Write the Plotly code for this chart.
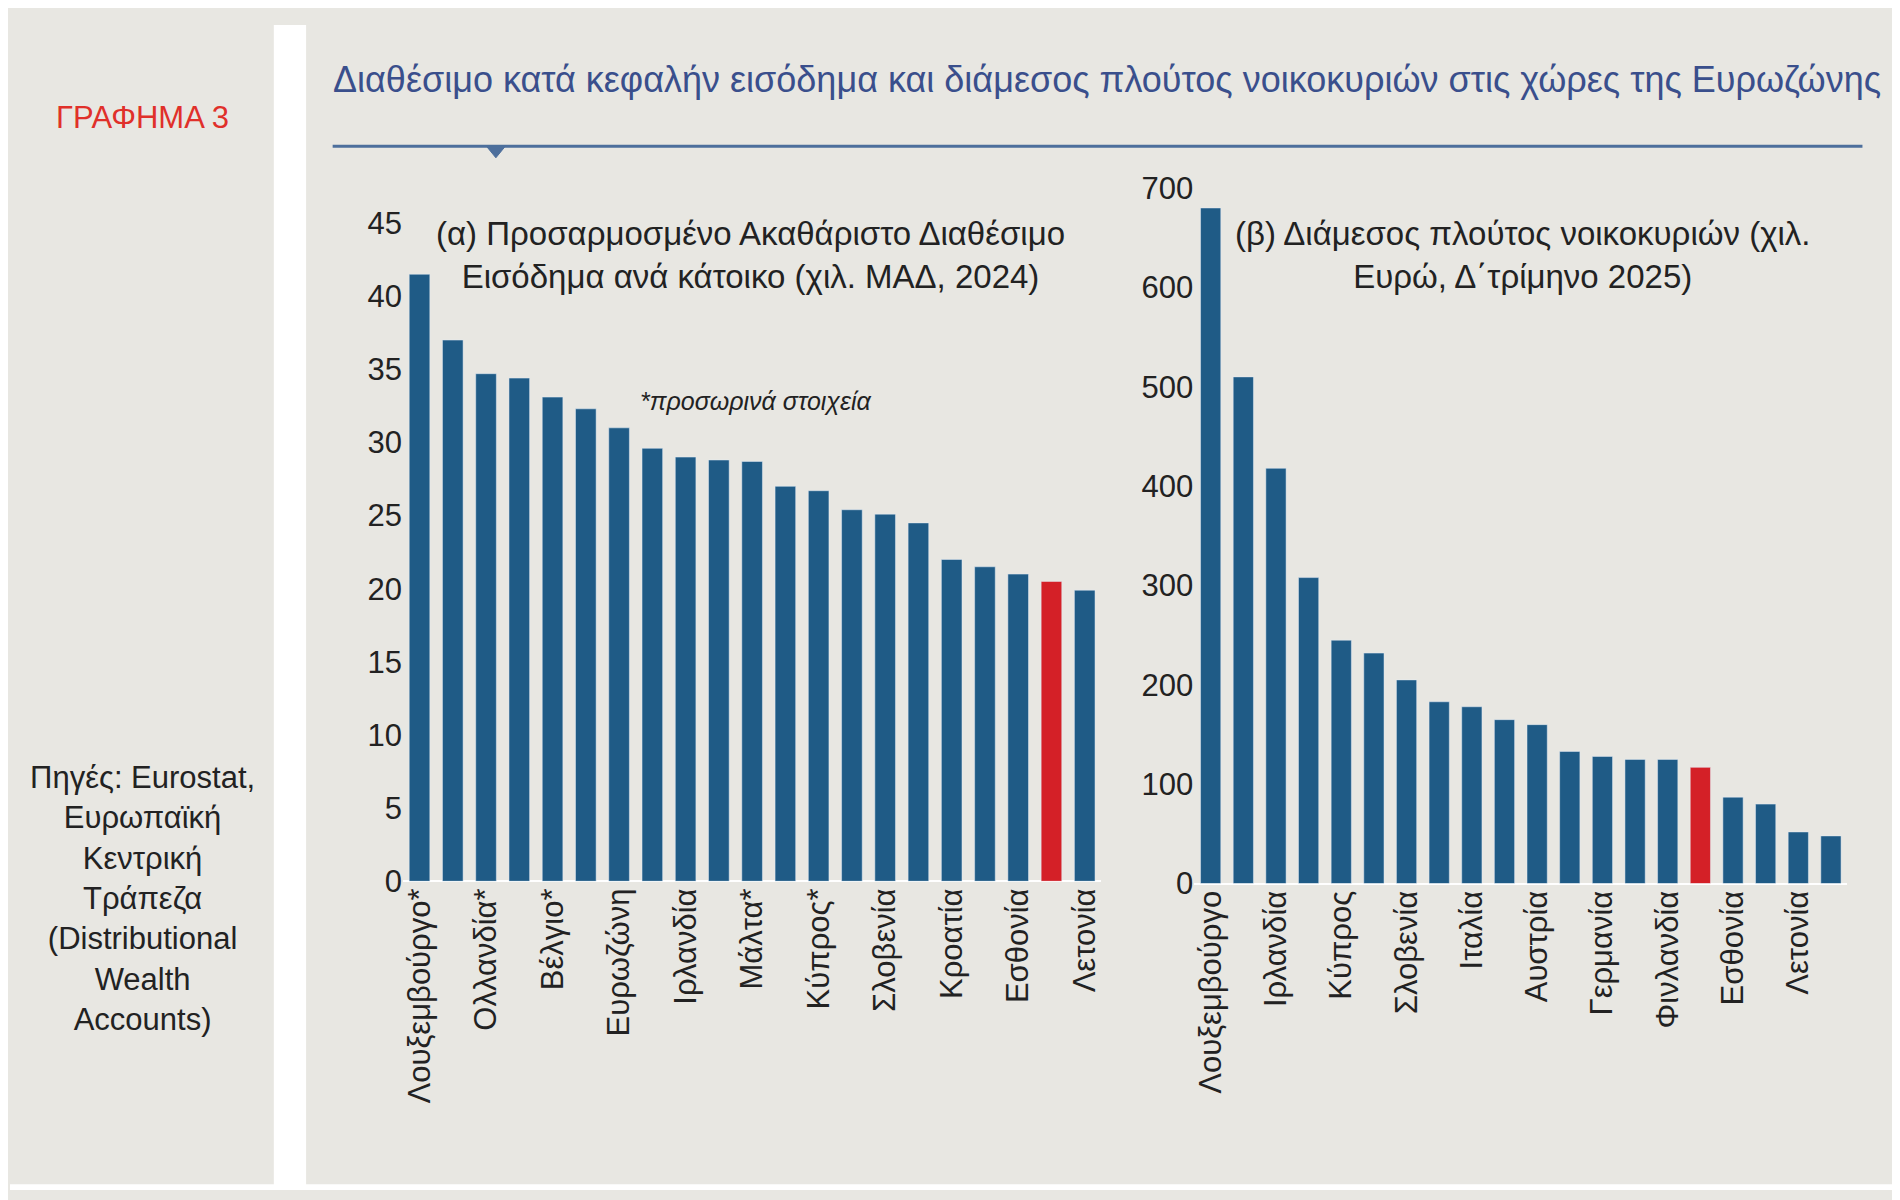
import plotly.graph_objects as go

cats_a = ["Λουξεμβούργο*","Γερμανία*","Ολλανδία*","Αυστρία","Βέλγιο*","Γαλλία*","Ευρωζώνη","Φινλανδία","Ιρλανδία","Ιταλία","Μάλτα*","Ισπανία*","Κύπρος*","Πορτογαλία*","Σλοβενία","Λιθουανία","Κροατία","Σλοβακία","Εσθονία","Ελλάδα*","Λετονία"]
vals_a = [41.5,37.0,34.7,34.4,33.1,32.3,31.0,29.6,29.0,28.8,28.7,27.0,26.7,25.4,25.1,24.5,22.0,21.5,21.0,20.5,19.9]
cats_b = ["Λουξεμβούργο","Μάλτα","Ιρλανδία","Βέλγιο","Κύπρος","Ισπανία","Σλοβενία","Γαλλία","Ιταλία","Ευρωζώνη","Αυστρία","Πορτογαλία","Γερμανία","Σλοβακία","Φινλανδία","Ελλάδα","Εσθονία","Λιθουανία","Λετονία","Κροατία"]
vals_b = [680,510,418,308,245,232,205,183,178,165,160,133,128,125,125,117,87,80,52,48]

BLUE = "#1f5b86"; RED = "#d42027"; BG = "#e8e7e2"
col = lambda cats: [RED if c.startswith("Ελλάδα") else BLUE for c in cats]

FAM = "Liberation Sans Narrow, Arial Narrow, Liberation Sans, Arial"
fig = go.Figure()
fig.add_bar(x=cats_a, y=vals_a, marker_color=col(cats_a), xaxis="x", yaxis="y")
fig.add_bar(x=cats_b, y=vals_b, marker_color=col(cats_b), xaxis="x2", yaxis="y2")

font = dict(family=FAM, size=33, color="#222")
tick = dict(family=FAM, size=31, color="#222")
ann = dict(xref="paper", yref="paper", showarrow=False, xanchor="center", yanchor="middle")
fig.update_layout(
    width=1900, height=1200, margin=dict(l=0, r=0, t=0, b=0),
    paper_bgcolor=BG, plot_bgcolor=BG, showlegend=False, bargap=0.38,
    font=font,
    xaxis=dict(domain=[0.207, 0.575], tickangle=-90, tickfont=tick, showgrid=False, anchor="y"),
    yaxis=dict(domain=[0.265, 0.83], range=[0, 45], dtick=5, tickfont=tick, showgrid=False, ticks="", anchor="x"),
    xaxis2=dict(domain=[0.624, 0.968], tickangle=-90, tickfont=tick, showgrid=False, anchor="y2"),
    yaxis2=dict(domain=[0.263, 0.86], range=[0, 700], dtick=100, tickfont=tick, showgrid=False, ticks="", anchor="x2"),
    shapes=[
        dict(type="rect", xref="paper", yref="paper", x0=0.139, x1=0.156, y0=0, y1=1, fillcolor="white", line_width=0, layer="below"),
        dict(type="rect", xref="paper", yref="paper", x0=0, x1=1, y0=0, y1=0.005, fillcolor="white", line_width=0, layer="below"),
        dict(type="line", xref="paper", yref="paper", x0=0.17, x1=0.976, y0=0.896, y1=0.896, line=dict(color="#4d6f9c", width=3)),
        dict(type="path", xref="paper", yref="paper", path="M 0.251 0.896 L 0.256 0.886 L 0.261 0.896 Z", fillcolor="#4d6f9c", line=dict(color="#4d6f9c", width=1)),
    ],
    annotations=[
        dict(text="Διαθέσιμο κατά κεφαλήν εισόδημα και διάμεσος πλούτος νοικοκυριών στις χώρες της Ευρωζώνης", x=0.169, y=0.953, **{**ann, "xanchor": "left"}, font=dict(family=FAM, size=36, color="#3a4f8c")),
        dict(text="ΓΡΑΦΗΜΑ 3", x=0.07, y=0.921, **ann, font=dict(family=FAM, size=31, color="#e0302a")),
        dict(text="Πηγές: Eurostat,<br>Ευρωπαϊκή<br>Κεντρική<br>Τράπεζα<br>(Distributional<br>Wealth<br>Accounts)", x=0.07, y=0.25, **ann, font=dict(family=FAM, size=31, color="#222")),
        dict(text="(α) Προσαρμοσμένο Ακαθάριστο Διαθέσιμο<br>Εισόδημα ανά κάτοικο (χιλ. ΜΑΔ, 2024)", x=0.39, y=0.803, **ann, font=font),
        dict(text="(β) Διάμεσος πλούτος νοικοκυριών (χιλ.<br>Ευρώ, Δ΄τρίμηνο 2025)", x=0.797, y=0.803, **ann, font=font),
        dict(text="<i>*προσωρινά στοιχεία</i>", x=0.393, y=0.677, **ann, font=dict(family=FAM, size=25, color="#222")),
    ],
)
fig.write_html("out.html")
